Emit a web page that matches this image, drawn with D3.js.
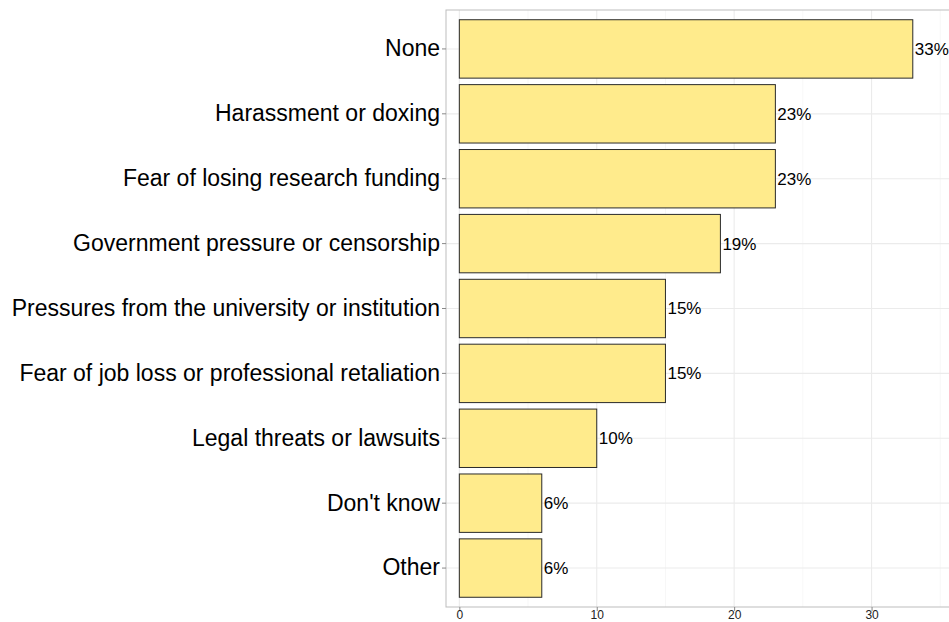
<!DOCTYPE html>
<html>
<script src="https://d3js.org/d3.v7.min.js"></script>
<style>
    body { margin: 0; background: #fff; }
    svg { display: block; font-family: "Liberation Sans", Arial, sans-serif; }
</style>
<body>
</body>
<script>
    const categories = ["None", "Harassment or doxing", "Fear of losing research funding",
        "Government pressure or censorship", "Pressures from the university or institution",
        "Fear of job loss or professional retaliation", "Legal threats or lawsuits",
        "Don't know", "Other"];
    const values = [33, 23, 23, 19, 15, 15, 10, 6, 6];
    const xTicks = [0, 10, 20, 30];
    const xMinor = [5, 15, 25, 35];

    const width = 949, height = 622;
    const panelLeft = 446, panelTop = 10, panelBottom = 607, panelRight = 965;

    const svg = d3.select("body").append("svg").attr("width", width).attr("height", height);

    const x = d3.scaleLinear().domain([-0.97, 36.8]).range([panelLeft, panelRight]);
    const y = d3.scaleBand().domain(categories).range([panelTop, panelBottom])
        .paddingInner(0.1).paddingOuter(0.15);

    // grid
    const grid = svg.append("g");
    grid.selectAll(".minor").data(xMinor).join("line")
        .attr("x1", d => x(d)).attr("x2", d => x(d))
        .attr("y1", panelTop).attr("y2", panelBottom)
        .attr("stroke", "#f2f2f2").attr("stroke-width", 0.6);
    grid.selectAll(".major").data(xTicks).join("line")
        .attr("x1", d => x(d)).attr("x2", d => x(d))
        .attr("y1", panelTop).attr("y2", panelBottom)
        .attr("stroke", "#ebebeb").attr("stroke-width", 1.1);
    grid.selectAll(".hg").data(categories).join("line")
        .attr("x1", panelLeft).attr("x2", panelRight)
        .attr("y1", d => y(d) + y.bandwidth() / 2).attr("y2", d => y(d) + y.bandwidth() / 2)
        .attr("stroke", "#ebebeb").attr("stroke-width", 1.1);

    // bars
    svg.selectAll("rect.bar").data(values).join("rect")
        .attr("class", "bar")
        .attr("x", x(0))
        .attr("y", (d, i) => y(categories[i]))
        .attr("width", d => x(d) - x(0))
        .attr("height", y.bandwidth())
        .attr("fill", "#FFEB8C")
        .attr("stroke", "#2a2a2a")
        .attr("stroke-width", 1);

    // value labels
    svg.selectAll("text.val").data(values).join("text")
        .attr("class", "val")
        .attr("x", d => x(d) + 2)
        .attr("y", (d, i) => y(categories[i]) + y.bandwidth() / 2)
        .attr("dy", "0.35em")
        .attr("font-size", 17)
        .attr("fill", "#000")
        .text(d => d + "%");

    // panel border
    svg.append("rect")
        .attr("x", panelLeft).attr("y", panelTop)
        .attr("width", panelRight - panelLeft).attr("height", panelBottom - panelTop)
        .attr("fill", "none").attr("stroke", "#bdbdbd").attr("stroke-width", 1);

    // axes
    const yAxis = svg.append("g")
        .attr("transform", `translate(${panelLeft},0)`)
        .call(d3.axisLeft(y).tickSize(4).tickPadding(2));
    yAxis.select(".domain").remove();
    yAxis.selectAll(".tick line").attr("stroke", "#888");
    yAxis.selectAll(".tick text").attr("font-size", 23).attr("fill", "#000")
        .attr("font-family", "Liberation Sans, Arial, sans-serif");

    const xAxis = svg.append("g")
        .attr("transform", `translate(0,${panelBottom})`)
        .call(d3.axisBottom(x).tickValues(xTicks).tickSize(4).tickPadding(2));
    xAxis.select(".domain").remove();
    xAxis.selectAll(".tick line").attr("stroke", "#888");
    xAxis.selectAll(".tick text").attr("font-size", 12).attr("fill", "#222")
        .attr("dy", 0).attr("y", 12)
        .attr("font-family", "Liberation Sans, Arial, sans-serif");
</script>
</html>
